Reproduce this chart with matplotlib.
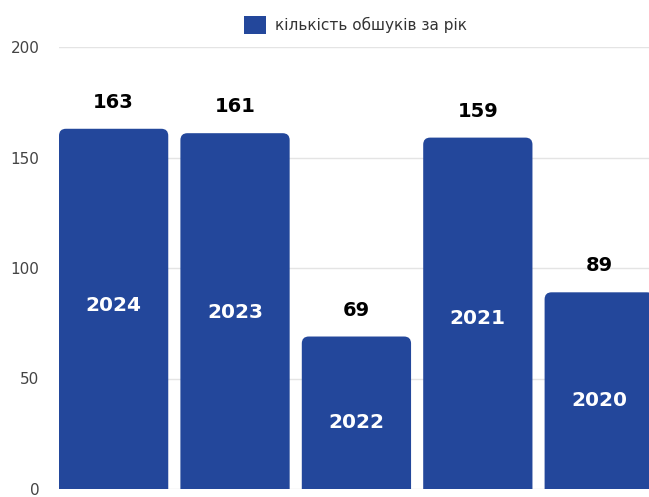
import numpy as np
import matplotlib
matplotlib.use("Agg")
import matplotlib.pyplot as plt
from matplotlib.path import Path
from matplotlib.patches import PathPatch, Patch

# data
years = ["2024", "2023", "2022", "2021", "2020"]
searches = [163, 161, 69, 159, 89]
year_label_y = [83, 80, 30, 77, 40]   # where the year sits inside each bar
legend_label = "кількість обшуків за рік"

bar_color = "#23479b"
grid_color = "#e4e4e4"
tick_color = "#444444"

plt.rcParams['font.family'] = ['DejaVu Sans']

fig = plt.figure(figsize=(6.49, 4.97), dpi=100)
ax = fig.add_axes([59 / 649, 8 / 497, 1 - 59 / 649, 442 / 497])

xpos = np.arange(len(years))
bars = ax.bar(xpos, searches, width=0.9, color=bar_color, zorder=3)

ax.set_xlim(-0.45, 4.41)
ax.set_ylim(0, 200)
ax.set_yticks([0, 50, 100, 150, 200])
ax.set_xticks([])
ax.yaxis.grid(True, color=grid_color, lw=1, zorder=0)
for s in ax.spines.values():
    s.set_visible(False)
ax.tick_params(axis='y', length=0, pad=14, labelsize=11, labelcolor=tick_color)

# swap the square bars for ones with rounded top corners
fig.canvas.draw()
px_x = ax.transData.transform((1, 0))[0] - ax.transData.transform((0, 0))[0]
px_y = ax.transData.transform((0, 1))[1] - ax.transData.transform((0, 0))[1]
rad = 7
rx, ry = rad / px_x, rad / px_y
for b in bars:
    x0, w, h = b.get_x(), b.get_width(), b.get_height()
    verts = [(x0, 0), (x0, h - ry), (x0, h), (x0 + rx, h),
             (x0 + w - rx, h), (x0 + w, h), (x0 + w, h - ry),
             (x0 + w, 0), (x0, 0)]
    codes = [Path.MOVETO, Path.LINETO, Path.CURVE3, Path.CURVE3,
             Path.LINETO, Path.CURVE3, Path.CURVE3,
             Path.LINETO, Path.CLOSEPOLY]
    ax.add_patch(PathPatch(Path(verts, codes), facecolor=bar_color,
                           edgecolor='none', zorder=3))
    b.set_visible(False)

for x, v, yl, yr in zip(xpos, searches, year_label_y, years):
    ax.annotate(str(v), (x, v), xytext=(0, 19), textcoords='offset points',
                ha='center', va='center', fontsize=14, fontweight='heavy',
                color='black', zorder=4)
    ax.text(x, yl, yr, ha='center', va='center', fontsize=14.5,
            fontweight='heavy', color='white', zorder=4)

fig.legend(handles=[Patch(facecolor=bar_color, edgecolor='none')],
           labels=[legend_label], loc='center', bbox_to_anchor=(0.548, 0.95),
           frameon=False, handlelength=1.4, handleheight=1.4, handletextpad=0.6,
           fontsize=11, labelcolor='#333333')

fig.savefig("out.png", dpi=100)
